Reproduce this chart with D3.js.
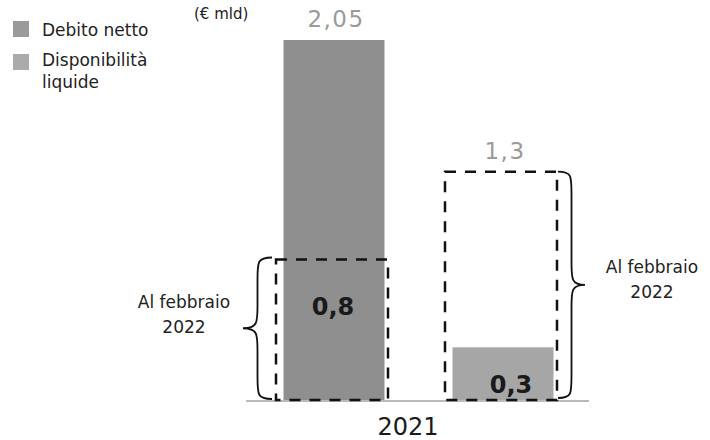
<!DOCTYPE html>
<html><head><meta charset="utf-8">
<script src="https://cdn.jsdelivr.net/npm/d3@7"></script>
<style>body{margin:0;background:#fff}svg{display:block;font-family:"DejaVu Sans",sans-serif}</style>
</head><body><svg id="c" width="710" height="440"></svg>
<script>
const categories = ["Debito netto", "Disponibilità liquide"];
const solidValues = [2.05, 0.3];
const dashedValues = [0.8, 1.3];
const topLabels = ["2,05", "1,3"];
const innerLabels = ["0,8", "0,3"];
const yearLabel = "2021";
const braceLabel = ["Al febbraio", "2022"];
const unitLabel = "(€ mld)";
const legendItems = ["Debito netto", "Disponibilità liquide"];

const svg = d3.select("#c");
const x = d3.scalePoint().domain(categories).range([332, 501]);
const y = d3.scaleLinear().domain([0, 2.05]).range([400, 40]);
const barW = 101, boxW = 112;
const barColors = ["#8f8f8f", "#a6a6a6"];

// baseline
svg.append("line").attr("x1", 246).attr("x2", 589).attr("y1", y(0) + 1).attr("y2", y(0) + 1)
  .attr("stroke", "#777").attr("stroke-width", 1);

// solid bars
svg.selectAll("rect.bar").data(categories).join("rect").attr("class", "bar")
  .attr("x", d => x(d) - barW / 2 + 2)
  .attr("width", barW)
  .attr("y", (d, i) => y(solidValues[i]))
  .attr("height", (d, i) => y(0) - y(solidValues[i]))
  .attr("fill", (d, i) => barColors[i]);

// dashed boxes
svg.selectAll("rect.box").data(categories).join("rect").attr("class", "box")
  .attr("x", d => x(d) - boxW / 2)
  .attr("width", boxW)
  .attr("y", (d, i) => y(dashedValues[i]))
  .attr("height", (d, i) => y(0) - y(dashedValues[i]))
  .attr("fill", "none").attr("stroke", "#111").attr("stroke-width", 2.5)
  .attr("stroke-dasharray", "11,9");

// top labels
const topVals = [solidValues[0], dashedValues[1]];
svg.selectAll("text.top").data(categories).join("text").attr("class", "top")
  .attr("x", d => x(d) + 4).attr("y", (d, i) => y(topVals[i]) - 13)
  .attr("text-anchor", "middle").attr("font-size", 23).attr("letter-spacing", 1.5).attr("fill", "#9a9a9a")
  .text((d, i) => topLabels[i]);

// inner labels
svg.selectAll("text.inner").data(categories).join("text").attr("class", "inner")
  .attr("x", d => x(d) + (d === categories[1] ? 10 : 1))
  .attr("y", (d, i) => i === 0 ? y(dashedValues[0]) + 55 : y(0) - 7)
  .attr("text-anchor", "middle").attr("font-size", 24).attr("font-weight", "bold").attr("fill", "#1a1a1a")
  .text((d, i) => innerLabels[i]);

// year
svg.append("text").attr("x", 408).attr("y", 435).attr("text-anchor", "middle")
  .attr("font-size", 24).attr("fill", "#1a1a1a").text(yearLabel);

// braces
function brace(xb, y1, y2, dir, w) {
  const m = (y1 + y2) / 2, h = w / 2;
  const xt = xb + dir * w;
  const xm = xb + dir * h;
  return `M${xb},${y1} C${xm},${y1} ${xm},${y1 + 4} ${xm},${y1 + 22}` +
         ` L${xm},${m - 22} C${xm},${m - 6} ${xm},${m} ${xt},${m}` +
         ` C${xm},${m} ${xm},${m + 6} ${xm},${m + 22}` +
         ` L${xm},${y2 - 22} C${xm},${y2 - 4} ${xm},${y2} ${xb},${y2}`;
}
const bl = x(categories[0]) - boxW / 2, br = x(categories[1]) + boxW / 2;
svg.append("path").attr("d", brace(bl - 4, y(dashedValues[0]) - 2, y(0) - 1, -1, 29))
  .attr("fill", "none").attr("stroke", "#111").attr("stroke-width", 1.8);
svg.append("path").attr("d", brace(br + 1, y(dashedValues[1]), y(0) - 2, 1, 27))
  .attr("fill", "none").attr("stroke", "#111").attr("stroke-width", 1.8);

const lt = svg.append("text").attr("text-anchor", "middle").attr("font-size", 17).attr("fill", "#222");
lt.append("tspan").attr("x", 184).attr("y", 308).text(braceLabel[0]);
lt.append("tspan").attr("x", 184).attr("dy", 25).text(braceLabel[1]);
const rt = svg.append("text").attr("text-anchor", "middle").attr("font-size", 17).attr("fill", "#222");
rt.append("tspan").attr("x", 652).attr("y", 273).text(braceLabel[0]);
rt.append("tspan").attr("x", 652).attr("dy", 25).text(braceLabel[1]);

// legend
const lg = svg.append("g");
const legColors = ["#9a9a9a", "#ababab"];
lg.selectAll("rect").data(legendItems).join("rect")
  .attr("x", 13).attr("y", (d, i) => 21 + i * 33).attr("width", 16).attr("height", 16)
  .attr("fill", (d, i) => legColors[i]);
lg.append("text").attr("x", 42).attr("y", 36).attr("font-size", 17).attr("fill", "#222").text(legendItems[0]);
const l2 = lg.append("text").attr("font-size", 17).attr("fill", "#222");
l2.append("tspan").attr("x", 42).attr("y", 66).text("Disponibilità");
l2.append("tspan").attr("x", 42).attr("dy", 22).text("liquide");

svg.append("text").attr("x", 194).attr("y", 19).attr("font-size", 15).attr("fill", "#222").text(unitLabel);
</script></body></html>
